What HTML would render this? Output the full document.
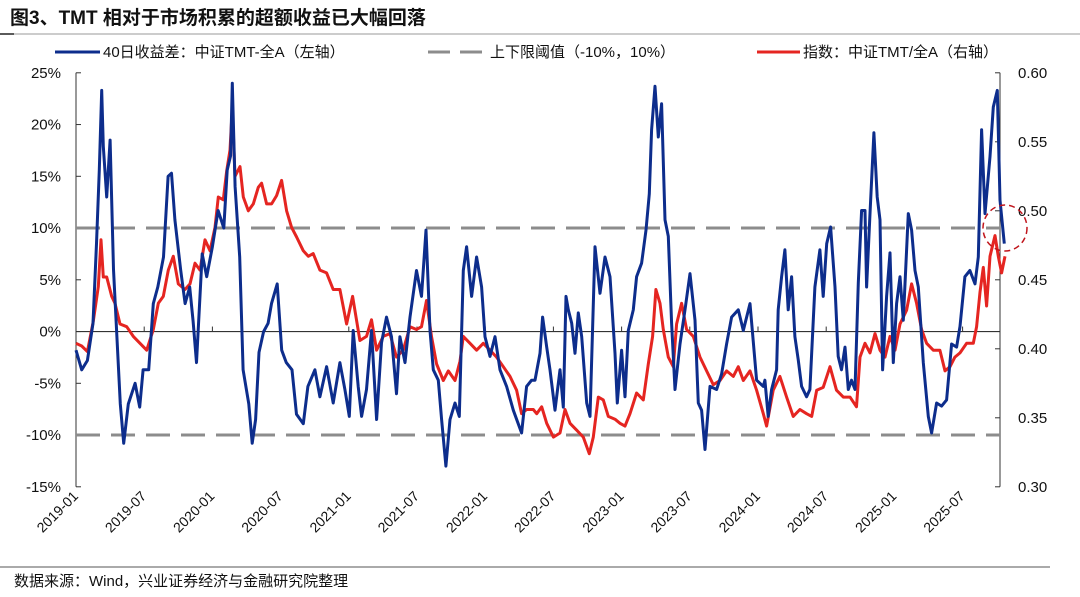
<!DOCTYPE html>
<html><head><meta charset="utf-8">
<style>
html,body{margin:0;padding:0;background:#fff;}
body{width:1080px;height:597px;overflow:hidden;position:relative;font-family:"Liberation Sans","Noto Sans CJK SC",sans-serif;}
</style></head>
<body>
<svg id="chart" width="1080" height="597" xmlns="http://www.w3.org/2000/svg" style="position:absolute;left:0;top:0;font-family:'Liberation Sans','Noto Sans CJK SC',sans-serif;">
  <text x="10" y="24" font-size="19" font-weight="bold" fill="#111">图3、TMT 相对于市场积累的超额收益已大幅回落</text>
  <line x1="0" y1="34" x2="1080" y2="34" stroke="#999" stroke-width="1"/>
  <line x1="0" y1="34" x2="14" y2="34" stroke="#222" stroke-width="1.5"/>
  <g font-size="15" fill="#111">
    <g>
      <line x1="55" y1="52" x2="100" y2="52" stroke="#0d2d8c" stroke-width="3"/>
      <text x="103" y="57">40日收益差：中证TMT-全A（左轴）</text>
    </g>
    <g>
      <line x1="428" y1="52" x2="486" y2="52" stroke="#8c8c8c" stroke-width="3" stroke-dasharray="22,10"/>
      <text x="490" y="57">上下限阈值（-10%，10%）</text>
    </g>
    <g>
      <line x1="757" y1="52" x2="800" y2="52" stroke="#e52521" stroke-width="3"/>
      <text x="803" y="57">指数：中证TMT/全A（右轴）</text>
    </g>
  </g>
  <g id="axes"></g>
  <g id="plot"></g>
  <line x1="0" y1="567" x2="1050" y2="567" stroke="#555" stroke-width="1"/>
  <text x="14" y="586" font-size="15" fill="#111">数据来源：Wind，兴业证券经济与金融研究院整理</text>
</svg>
<script>
// ---- data (months since 2019-01) ----
const blueMonths = [0,0.5,1,1.5,1.8,2.05,2.26,2.4,2.7,3,3.3,3.6,3.9,4.2,4.6,5.2,5.6,5.9,6.4,6.8,7.2,7.7,8.1,8.4,8.7,9.2,9.6,10.0,10.3,10.6,11.1,11.5,12,12.5,13,13.3,13.6,13.75,14,14.4,14.7,15.2,15.5,15.8,16.1,16.5,16.9,17.2,17.7,18.1,18.5,19,19.4,20,20.4,
21.02,21.46,22.05,22.63,23.22,23.66,24.04,24.39,24.83,25.13,25.56,26.0,26.45,26.88,27.32,27.76,28.2,28.5,28.94,29.38,29.96,30.4,30.79,31.14,31.43,31.87,32.16,32.54,32.9,33.34,33.72,34.07,34.36,34.8,35.24,35.68,35.98,36.42,36.86,37.3,37.88,38.47,39.2,39.64,40.08,
40.38,40.82,41.05,41.41,41.7,42.14,42.58,42.87,43.11,43.31,43.61,43.9,44.19,44.49,44.93,45.22,45.66,46.1,46.54,46.98,47.42,47.62,48.0,48.3,48.59,49.03,49.32,49.76,50.15,50.44,50.64,50.94,51.23,51.52,51.82,52.11,52.4,52.7,53.14,53.58,54.02,54.46,54.75,55.04,55.34,55.78,56.36,56.8,57.24,57.68,58.27,58.71,59.3,59.88,60.47,
60.61,60.9,61.2,61.64,61.78,62.08,62.37,62.66,62.96,63.25,63.54,63.84,64.28,64.57,65.01,65.45,65.74,66.04,66.39,66.77,67.06,67.35,67.65,67.94,68.23,68.53,68.82,69.11,69.41,69.55,69.85,70.2,70.49,70.73,70.96,71.31,71.61,71.9,72.19,72.49,72.78,73.22,73.51,73.81,74.1,74.54,74.98,75.27,75.71,76.15,76.59,77.03,77.47,77.77,78.2,78.64,79.09,79.38,79.67,79.97,80.41,80.7,81.05,81.29,81.67];
const blueValues = [-1.8,-3.7,-2.8,0.8,8.5,15.6,23.3,17.9,13,18.5,6,-0.5,-7,-10.8,-7,-5,-7.3,-3.7,-3.7,2.7,4.3,7.2,15,15.3,10.8,6,2.7,4.3,1,-3,7.5,5.3,8.2,11.7,10,15.6,17,24,14,7.2,-3.7,-7,-10.8,-8.5,-2,0,0.8,2.7,4.6,-1.8,-3,-3.7,-8,-8.9,-5.3,
-3.7,-6.3,-3.4,-6.9,-3,-5.6,-8.2,0.1,-5.3,-8.2,-5.6,0.1,-8.5,-1.1,1.4,-0.5,-6,-0.5,-3,1.4,5.9,3.4,9.8,0.1,-3.7,-4.7,-8.5,-13,-8.5,-6.9,-8.2,5.9,8.2,3.4,7.2,4.3,-0.5,-2.4,-0.5,-3.7,-5.3,-7.6,-9.8,-5.3,-4.7,
-4.7,-2.1,1.4,-1.5,-3.7,-7.6,-3.7,-7.3,3.4,2.1,0.8,-2.1,1.8,-0.5,-6.9,-8.2,8.2,3.7,7.2,5.3,-2.1,-6.9,-1.8,-6.3,0.1,2.1,5.3,6.6,9.8,13.3,19.5,23.7,18.8,22,10.8,9.2,0.8,-5.6,-1.2,2.1,5.6,1.1,-6.9,-7.6,-11.4,-5.3,-5.6,-4.1,-1.2,1.4,2.1,0.1,2.7,-4.7,-5.3,
-4.7,-8.2,-5.6,-3.7,2.1,5.3,7.9,2.1,5.3,-0.5,-2.7,-5.3,-6.3,-5.6,4.3,7.9,3.4,8.5,10.1,4.3,-2.4,-3.7,-1.5,-5.6,-4.7,-5.6,4.7,11.7,11.7,4.3,11.4,19.2,13,10.8,-3.7,3.4,7.6,-3,2.7,5.3,1.1,11.4,9.8,5.9,4.3,-3,-8.2,-9.8,-6.9,-7.2,-6.6,-1.2,-1.5,0.5,5.3,5.9,4.6,7.2,19.5,11.4,16.9,21.7,23.3,12.7,8.5];
const redMonths = [0,0.5,1,1.52,1.96,2.2,2.4,2.7,3.14,3.43,3.87,4.46,5.04,5.63,6.22,6.8,7.24,7.68,8.12,8.56,9.0,9.59,10.03,10.47,10.91,11.35,11.79,12.23,12.52,12.96,13.26,13.55,13.75,13.99,14.43,14.72,15.16,15.6,16.04,16.33,16.77,17.21,17.65,18.09,18.53,18.97,19.41,20.0,20.44,
20.87,21.46,22.05,22.63,23.22,23.81,24.33,24.98,25.56,26.0,26.45,27.03,27.62,28.2,28.79,29.38,29.96,30.4,30.84,31.28,31.72,32.31,32.75,33.34,33.78,34.07,34.66,35.24,35.83,36.42,37.0,37.59,38.18,38.76,39.2,39.64,40.23,
40.53,40.97,41.41,42.0,42.58,43.02,43.46,44.05,44.63,45.16,45.51,45.95,46.39,46.83,47.42,47.86,48.3,48.74,49.32,49.91,50.35,50.73,51.02,51.38,51.67,52.11,52.55,52.84,53.28,53.72,54.31,54.9,55.48,56.07,56.66,57.24,57.83,58.27,58.71,59.3,59.88,60.47,
60.76,61.34,61.93,62.52,63.1,63.69,64.28,64.72,65.16,65.74,66.33,66.91,67.5,68.09,68.67,68.97,69.41,69.85,70.29,70.73,71.17,71.61,72.05,72.49,73.07,73.51,73.95,74.39,74.83,75.42,76.0,76.45,76.89,77.32,77.77,78.35,78.94,79.23,79.53,79.82,80.11,80.41,80.85,81.14,81.43,81.73];
const redValues = [0.404,0.402,0.398,0.420,0.445,0.479,0.452,0.452,0.438,0.433,0.418,0.416,0.409,0.404,0.399,0.414,0.433,0.438,0.457,0.467,0.447,0.443,0.447,0.462,0.457,0.479,0.471,0.488,0.510,0.508,0.529,0.544,0.575,0.525,0.532,0.510,0.500,0.505,0.517,0.520,0.505,0.505,0.511,0.522,0.500,0.488,0.481,0.471,0.467,
0.469,0.457,0.455,0.443,0.443,0.418,0.438,0.406,0.409,0.421,0.399,0.409,0.411,0.394,0.399,0.416,0.414,0.416,0.435,0.409,0.389,0.377,0.384,0.377,0.391,0.409,0.404,0.399,0.404,0.399,0.394,0.387,0.380,0.370,0.353,0.356,0.356,
0.353,0.358,0.346,0.336,0.339,0.356,0.346,0.341,0.336,0.324,0.336,0.365,0.363,0.351,0.349,0.346,0.344,0.353,0.368,0.363,0.389,0.409,0.443,0.433,0.414,0.394,0.387,0.418,0.433,0.414,0.409,0.394,0.384,0.374,0.377,0.384,0.380,0.387,0.377,0.384,0.370,0.353,
0.344,0.370,0.380,0.365,0.351,0.356,0.353,0.351,0.370,0.372,0.387,0.370,0.365,0.365,0.358,0.394,0.404,0.397,0.411,0.399,0.394,0.409,0.399,0.418,0.428,0.447,0.433,0.414,0.404,0.399,0.399,0.384,0.387,0.394,0.397,0.404,0.404,0.416,0.441,0.459,0.431,0.467,0.482,0.467,0.455,0.467];
const thresholds = [-10, 10];
const leftTicks = [25,20,15,10,5,0,-5,-10,-15];
const rightTicks = [0.60,0.55,0.50,0.45,0.40,0.35,0.30];
const xTickLabels = ["2019-01","2019-07","2020-01","2020-07","2021-01","2021-07","2022-01","2022-07","2023-01","2023-07","2024-01","2024-07","2025-01","2025-07"];

// ---- axis functions ----
const X0 = 76, PX_PER_MONTH = 68.2/6, XEND = 1000;
const yTop = 72.8, yBot = 486.8;
const x = m => X0 + m * PX_PER_MONTH;
const yL = v => yTop + (25 - v) / 40 * (yBot - yTop);
const yR = v => yTop + (0.60 - v) / 0.30 * (yBot - yTop);
const NS = "http://www.w3.org/2000/svg";
function mk(tag, attrs, parent){ const e=document.createElementNS(NS,tag); for(const k in attrs) e.setAttribute(k,attrs[k]); parent.appendChild(e); return e; }
const axes = document.getElementById('axes'), plot = document.getElementById('plot');

// left axis
let la = mk('line',{x1:X0,y1:yTop,x2:X0,y2:yBot,stroke:'#333','stroke-width':1},axes);
 
leftTicks.forEach(v=>{
  const t = mk('line',{x1:X0,y1:yL(v),x2:X0+5,y2:yL(v),stroke:'#333','stroke-width':1},axes);
   
  const l = mk('text',{x:61,y:yL(v)+5,'text-anchor':'end','font-size':15,fill:'#111'},axes);
  l.textContent = v + '%';
   
});
// right axis
let ra = mk('line',{x1:XEND,y1:yTop,x2:XEND,y2:yBot,stroke:'#333','stroke-width':1},axes);
 
rightTicks.forEach(v=>{
  const t = mk('line',{x1:XEND-5,y1:yR(v),x2:XEND,y2:yR(v),stroke:'#333','stroke-width':1},axes);
   
  const l = mk('text',{x:1018,y:yR(v)+5,'font-size':15,fill:'#111'},axes);
  l.textContent = v.toFixed(2);
   
});
// zero line / x axis
let za = mk('line',{x1:X0,y1:yL(0),x2:XEND,y2:yL(0),stroke:'#333','stroke-width':1.2},axes);
 
xTickLabels.forEach((s,i)=>{
  const xx = x(i*6);
  const t = mk('line',{x1:xx,y1:yL(0),x2:xx,y2:yL(0)-5,stroke:'#333','stroke-width':1},axes);
   
  const l = mk('text',{x:xx+3,y:497,'text-anchor':'end','font-size':14,fill:'#111',transform:`rotate(-45 ${xx+3} 497)`},axes);
  l.textContent = s;
   
});
// thresholds
thresholds.forEach(v=>{
  const d = mk('line',{x1:X0,y1:yL(v),x2:XEND,y2:yL(v),stroke:'#8c8c8c','stroke-width':3,'stroke-dasharray':'24,11'},plot);
  
  
});
// red series
const rp = mk('polyline',{points:redMonths.map((m,i)=>x(m).toFixed(1)+','+yR(redValues[i]).toFixed(1)).join(' '),fill:'none',stroke:'#e52521','stroke-width':3,'stroke-linejoin':'round'},plot);
 
// blue series
const bp = mk('polyline',{points:blueMonths.map((m,i)=>x(m).toFixed(1)+','+yL(blueValues[i]).toFixed(1)).join(' '),fill:'none',stroke:'#0d2d8c','stroke-width':3,'stroke-linejoin':'round'},plot);
 
// highlight circle
const hc = mk('ellipse',{cx:1005,cy:228,rx:22,ry:23,fill:'none',stroke:'#c0141b','stroke-width':1.5,'stroke-dasharray':'6,4'},plot);
 
</script>
</body></html>
